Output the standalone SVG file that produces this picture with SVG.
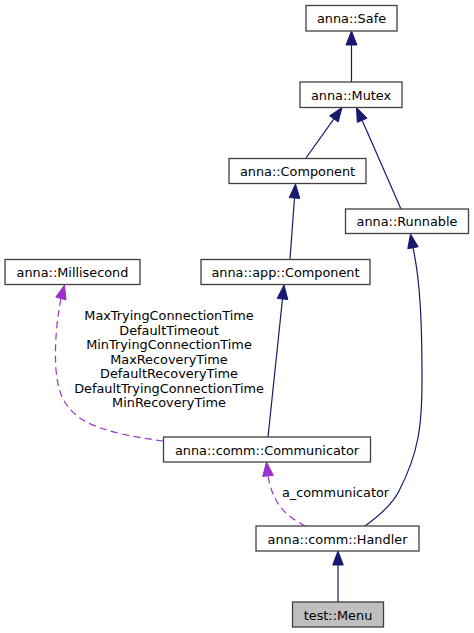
<svg xmlns="http://www.w3.org/2000/svg" width="474" height="633" viewBox="0 0 474 633">
<style>
text{font-family:"DejaVu Sans","Liberation Sans",sans-serif;font-size:12.85px;fill:#000;text-anchor:middle}
.node rect{fill:#fff;stroke:#404040;stroke-width:1.3}
.e{fill:none;stroke:#191970;stroke-width:1.2}
.ah{fill:#191970;stroke:#191970}
.d{fill:none;stroke:#9a32cd;stroke-width:1.2;stroke-dasharray:7,4.5}
.dh{fill:#9a32cd;stroke:#9a32cd}
</style>
<rect width="474" height="633" fill="#fff"/>
<g id="edges">
<path class="e" d="M351.5,82V45"/><polygon class="ah" points="351.5,31 346,45 357,45"/>
<path class="e" d="M306,158L333.9,118.9"/><polygon class="ah" points="342,107.5 338.2,122 329.6,115.8"/>
<path class="e" d="M401,209L362.1,120.3"/><polygon class="ah" points="356.5,107.5 367,118.2 357.3,122.4"/>
<path class="e" d="M290,259L294.5,198"/><polygon class="ah" points="295.5,184 299.8,198.4 289.2,197.6"/>
<path class="e" d="M268,437L282.5,298.9"/><polygon class="ah" points="284,285 287.8,299.5 277.2,298.4"/>
<path class="e" d="M365,526C383,513 393,503 399,491C419,452 422,425 422,380C422,320 420,280 413,247.7"/><polygon class="ah" points="410.5,234 418.2,246.8 407.8,248.7"/>
<path class="e" d="M338,602V565"/><polygon class="ah" points="338,551 332.7,565 343.3,565"/>
<path class="d" d="M163,441C140,438 100,432 80,418C62,405 58,390 56,370C54,340 58,315 60.9,298.5"/><polygon class="dh" points="64.5,285 66,299.9 55.8,297.1"/>
<path class="d" d="M305,526C296,521 285,514 279,505C273,496 270,487 268,475.9"/><polygon class="dh" points="266.5,462 273.3,475.3 262.7,476.5"/>
<text x="169" y="320">MaxTryingConnectionTime</text>
<text x="169" y="334.5">DefaultTimeout</text>
<text x="169" y="349">MinTryingConnectionTime</text>
<text x="169" y="363.5">MaxRecoveryTime</text>
<text x="169" y="378">DefaultRecoveryTime</text>
<text x="169" y="392.5">DefaultTryingConnectionTime</text>
<text x="169" y="407">MinRecoveryTime</text>
<text x="335.5" y="497">a_communicator</text>
</g>
<g id="safe" class="node"><rect x="306" y="5.5" width="91" height="25.5"/><text x="351.5" y="23">anna::Safe</text></g>
<g id="mutex" class="node"><rect x="300" y="82" width="102" height="25.5"/><text x="351" y="99.5">anna::Mutex</text></g>
<g id="component" class="node"><rect x="229" y="158.5" width="137" height="25"/><text x="297.5" y="176">anna::Component</text></g>
<g id="runnable" class="node"><rect x="345.5" y="209" width="123" height="24.5"/><text x="407" y="226">anna::Runnable</text></g>
<g id="millisecond" class="node"><rect x="5" y="259.5" width="135" height="25"/><text x="72.5" y="277">anna::Millisecond</text></g>
<g id="appcomponent" class="node"><rect x="201" y="259.5" width="169" height="25"/><text x="285.5" y="277">anna::app::Component</text></g>
<g id="communicator" class="node"><rect x="163.5" y="437" width="207" height="25"/><text x="267" y="454.5">anna::comm::Communicator</text></g>
<g id="handler" class="node"><rect x="256" y="526" width="163" height="25"/><text x="337.5" y="543.5">anna::comm::Handler</text></g>
<g id="menu" class="node"><rect x="292.5" y="602" width="91" height="25" style="fill:#bfbfbf"/><text x="338" y="619.5">test::Menu</text></g>
</svg>
